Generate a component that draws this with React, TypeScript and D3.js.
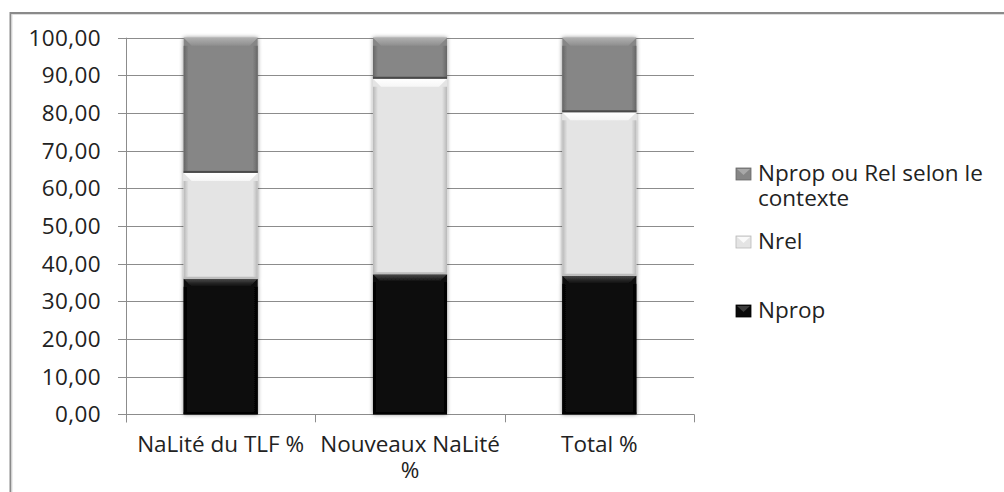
import React from 'react';
import * as d3 from 'd3';

const categories = ['NaLité du TLF %', 'Nouveaux NaLité %', 'Total %'];
const categoryLines = [['NaLité du TLF %'], ['Nouveaux NaLité', '%'], ['Total %']];
const seriesKeys = ['Nprop', 'Nrel', 'Nprop ou Rel selon le contexte'];
const npropValues = [36.0, 37.2, 36.8];
const nrelValues = [28.1, 51.9, 43.4];
const contexteValues = [35.9, 10.9, 19.8];
const yTickValues = [0, 10, 20, 30, 40, 50, 60, 70, 80, 90, 100];

const W = 1004;
const H = 492;
const FONT = "'Open Sans', 'DejaVu Sans', sans-serif";

type Style = { base: string; top1: string; top2: string; side: string; bottom: string };
const styles: Record<string, Style> = {
  Nprop: { base: '#0a0a0a', top1: '#4a4a4a', top2: '#0a0a0a', side: '#000000', bottom: '#000000' },
  Nrel: { base: '#e4e4e4', top1: '#ffffff', top2: '#f6f6f6', side: '#b8b8b8', bottom: '#bdbdbd' },
  'Nprop ou Rel selon le contexte': { base: '#868686', top1: '#b0b0b0', top2: '#8e8e8e', side: '#666666', bottom: '#4a4a4a' },
};
const gid = (k: string) => k.replace(/[^a-zA-Z]/g, '');

export default function App() {
  const table = categories.map((c, i) => ({
    category: c,
    Nprop: npropValues[i],
    Nrel: nrelValues[i],
    'Nprop ou Rel selon le contexte': contexteValues[i],
  }));
  const stack = d3.stack<any>().keys(seriesKeys);
  const stacked = stack(table);

  const x = d3.scaleBand<string>().domain(categories).range([126, 694]).paddingInner(0.609).paddingOuter(0.3045);
  const y = d3.scaleLinear().domain([0, 100]).range([414.3, 37.7]);
  const fmt = (v: number) => d3.format('.2f')(v).replace('.', ',');
  const step = x.step();
  const boundaries = d3.range(categories.length + 1).map((i) => 126 + i * step);

  const legendItems = [
    { key: 'Nprop ou Rel selon le contexte', lines: ['Nprop ou Rel selon le', 'contexte'], baseline: 181 },
    { key: 'Nrel', lines: ['Nrel'], baseline: 249 },
    { key: 'Nprop', lines: ['Nprop'], baseline: 318 },
  ];

  const bev = 8;

  return (
    <svg width={W} height={H} style={{ position: 'absolute', left: 0, top: 0, background: '#fff' }} fontFamily={FONT}>
      <defs>
        <filter id="shadow" x="-30%" y="-10%" width="160%" height="120%">
          <feGaussianBlur in="SourceAlpha" stdDeviation="2.2" />
          <feComponentTransfer>
            <feFuncA type="linear" slope="0.45" />
          </feComponentTransfer>
          <feMerge>
            <feMergeNode />
            <feMergeNode in="SourceGraphic" />
          </feMerge>
        </filter>
        {seriesKeys.map((k) => (
          <React.Fragment key={k}>
            <linearGradient id={`top-${gid(k)}`} x1="0" y1="0" x2="0" y2="1">
              <stop offset="0" stopColor={styles[k].top1} />
              <stop offset="1" stopColor={styles[k].top2} />
            </linearGradient>
            <linearGradient id={`left-${gid(k)}`} x1="0" y1="0" x2="1" y2="0">
              <stop offset="0" stopColor={styles[k].side} />
              <stop offset="1" stopColor={styles[k].base} />
            </linearGradient>
            <linearGradient id={`right-${gid(k)}`} x1="1" y1="0" x2="0" y2="0">
              <stop offset="0" stopColor={styles[k].side} />
              <stop offset="1" stopColor={styles[k].base} />
            </linearGradient>
          </React.Fragment>
        ))}
      </defs>
      <rect x={0} y={0} width={W} height={H} fill="#fff" />
      {/* frame */}
      <path d={`M10.5,${H + 5} L10.5,13 L${W + 5},13`} fill="none" stroke="#8a8a8a" strokeWidth={2} />
      <path d={`M12,${H + 5} L12,14.5 L${W + 5},14.5`} fill="none" stroke="#dedede" strokeWidth={1} />

      {/* gridlines + y ticks */}
      {yTickValues.map((t) => (
        <g key={t}>
          <line x1={118} x2={694} y1={Math.round(y(t)) + 0.5} y2={Math.round(y(t)) + 0.5} stroke="#8c8c8c" strokeWidth={1} />
          <text x={101} y={y(t)} dy="0.36em" textAnchor="end" fontSize={22.5} letterSpacing={0.4} fill="#222">
            {fmt(t)}
          </text>
        </g>
      ))}
      {/* y axis */}
      <line x1={126.5} x2={126.5} y1={y(100)} y2={y(0) + 8} stroke="#8c8c8c" strokeWidth={1} />
      {/* x ticks */}
      {boundaries.map((b, i) => (
        <line key={i} x1={Math.round(b) + 0.5} x2={Math.round(b) + 0.5} y1={y(0)} y2={y(0) + 8} stroke="#8c8c8c" strokeWidth={1} />
      ))}

      {/* bars */}
      <g filter="url(#shadow)">
        {stacked.map((s) =>
          s.map((d, i) => {
            const k = s.key;
            const st = styles[k];
            const x0 = x(categories[i])!;
            const w = x.bandwidth();
            const y0 = y(d[1]);
            const y1 = y(d[0]);
            return (
              <g key={`${k}-${i}`}>
                <rect x={x0} y={y0} width={w} height={y1 - y0} fill={st.base} />
                <polygon
                  points={`${x0},${y0 + bev} ${x0 + 5},${y0 + bev} ${x0 + 5},${y1 - 3} ${x0},${y1}`}
                  fill={`url(#left-${gid(k)})`}
                />
                <polygon
                  points={`${x0 + w},${y0 + bev} ${x0 + w - 5},${y0 + bev} ${x0 + w - 5},${y1 - 3} ${x0 + w},${y1}`}
                  fill={`url(#right-${gid(k)})`}
                />
                <polygon
                  points={`${x0},${y0} ${x0 + w},${y0} ${x0 + w - bev},${y0 + bev} ${x0 + bev},${y0 + bev}`}
                  fill={`url(#top-${gid(k)})`}
                />
                <rect x={x0} y={y1 - 2} width={w} height={2} fill={st.bottom} />
              </g>
            );
          })
        )}
      </g>

      {/* x labels */}
      {categories.map((c, i) => (
        <text key={c} x={x(c)! + x.bandwidth() / 2} y={451.5} textAnchor="middle" fontSize={22.5} fill="#222">
          {categoryLines[i].map((ln, j) => (
            <tspan key={j} x={x(c)! + x.bandwidth() / 2} dy={j === 0 ? 0 : 26}>
              {ln}
            </tspan>
          ))}
        </text>
      ))}

      {/* legend */}
      {legendItems.map((it) => {
        const st = styles[it.key];
        const mx = 736;
        const my = it.baseline - 13;
        return (
          <g key={it.key}>
            <rect x={mx} y={my} width={15} height={12} fill={st.base} stroke={st.side} strokeWidth={0.8} />
            <polygon points={`${mx + 1},${my + 1} ${mx + 14},${my + 1} ${mx + 7.5},${my + 7}`} fill={st.top1} opacity={0.8} />
            <text x={758} y={it.baseline} fontSize={22.5} fill="#222">
              {it.lines.map((ln, j) => (
                <tspan key={j} x={758} dy={j === 0 ? 0 : 25}>
                  {ln}
                </tspan>
              ))}
            </text>
          </g>
        );
      })}
    </svg>
  );
}
